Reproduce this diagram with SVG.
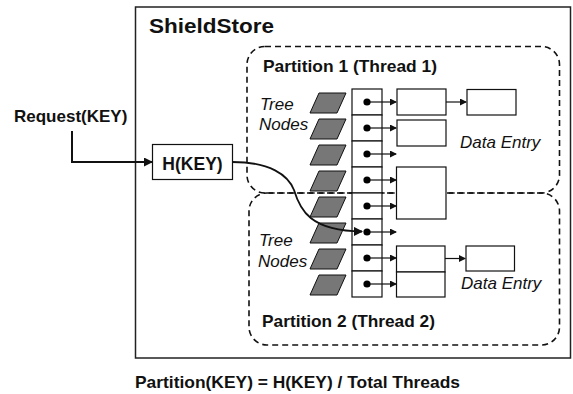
<svg xmlns="http://www.w3.org/2000/svg" width="573" height="394" viewBox="0 0 573 394">
  <defs>
    <style>
      .bold { font-family: "Liberation Sans", Arial, sans-serif; font-weight: bold; fill: #111; }
      .ital { font-family: "Liberation Sans", Arial, sans-serif; font-style: italic; fill: #111; font-size: 17px; }
      .box { fill: #fff; stroke: #111; stroke-width: 1.2; }
      .part { fill: none; stroke: #111; stroke-width: 1.6; stroke-dasharray: 6 4; }
      .node { fill: #777; stroke: #111; stroke-width: 1; }
      .ptr { stroke: #111; stroke-width: 1.2; fill: none; marker-end: url(#head); }
      .dot { fill: #000; }
    </style>
    <marker id="head" markerWidth="7" markerHeight="7" refX="6" refY="3.5" orient="auto" markerUnits="userSpaceOnUse">
      <path d="M0,0 L7,3.5 L0,7 Z" fill="#111"/>
    </marker>
    <marker id="headBig" markerWidth="9" markerHeight="9" refX="8" refY="4.5" orient="auto" markerUnits="userSpaceOnUse">
      <path d="M0,0 L9,4.5 L0,9 Z" fill="#111"/>
    </marker>
    <polygon id="tnode" points="319,-9 346,-9 337,11 310,11"/>
  </defs>

  <rect width="573" height="394" fill="#fff"/>

  <!-- ShieldStore container -->
  <g id="shieldstore">
    <rect x="135.5" y="7" width="435" height="351" fill="none" stroke="#222" stroke-width="1.5"/>
    <text class="bold" x="149" y="33" font-size="21" textLength="125" lengthAdjust="spacingAndGlyphs">ShieldStore</text>
  </g>

  <!-- Partitions -->
  <g id="partition1">
    <rect class="part" x="247" y="46.5" width="312.5" height="146.5" rx="18" ry="18"/>
    <text class="bold" x="263" y="72" font-size="16.5" textLength="174" lengthAdjust="spacingAndGlyphs">Partition 1 (Thread 1)</text>
    <text class="ital" x="260" y="110">Tree</text>
    <text class="ital" x="259" y="130">Nodes</text>
    <text class="ital" x="460" y="148">Data Entry</text>
  </g>
  <g id="partition2">
    <rect class="part" x="249" y="193" width="310.5" height="152" rx="18" ry="18"/>
    <text class="bold" x="262" y="327" font-size="16.5" textLength="173" lengthAdjust="spacingAndGlyphs">Partition 2 (Thread 2)</text>
    <text class="ital" x="259" y="246">Tree</text>
    <text class="ital" x="258" y="267">Nodes</text>
    <text class="ital" x="461" y="289">Data Entry</text>
  </g>

  <!-- Tree nodes -->
  <g id="tree-nodes">
    <use href="#tnode" class="node" transform="translate(0,102)"/>
    <use href="#tnode" class="node" transform="translate(0,128)"/>
    <use href="#tnode" class="node" transform="translate(0,154)"/>
    <use href="#tnode" class="node" transform="translate(0,180)"/>
    <use href="#tnode" class="node" transform="translate(0,206)"/>
    <use href="#tnode" class="node" transform="translate(0,232)"/>
    <use href="#tnode" class="node" transform="translate(0,258)"/>
    <use href="#tnode" class="node" transform="translate(0,284)"/>
  </g>

  <!-- Bucket array -->
  <g id="buckets">
    <rect class="box" x="352" y="89" width="30" height="26"/>
    <rect class="box" x="352" y="115" width="30" height="26"/>
    <rect class="box" x="352" y="141" width="30" height="26"/>
    <rect class="box" x="352" y="167" width="30" height="26"/>
    <rect class="box" x="352" y="193" width="30" height="26"/>
    <rect class="box" x="352" y="219" width="30" height="26"/>
    <rect class="box" x="352" y="245" width="30" height="26"/>
    <rect class="box" x="352" y="271" width="30" height="26"/>
  </g>

  <!-- Data entries -->
  <g id="data-entries">
    <rect class="box" x="397" y="89" width="49" height="26"/>
    <rect class="box" x="467" y="89.5" width="49" height="25.5"/>
    <rect class="box" x="397" y="120" width="49" height="26"/>
    <rect class="box" x="396.5" y="167" width="49.5" height="52"/>
    <rect class="box" x="396.5" y="246" width="48.5" height="26"/>
    <rect class="box" x="396.5" y="272" width="48.5" height="25"/>
    <rect class="box" x="466" y="246" width="48.5" height="25"/>
  </g>

  <!-- H(KEY) -->
  <g id="hash">
    <rect class="box" x="152.5" y="144.5" width="80" height="35"/>
    <text class="bold" x="192.5" y="169.5" font-size="17.5" text-anchor="middle">H(KEY)</text>
  </g>

  <!-- Request label -->
  <g id="request">
    <text class="bold" x="14" y="122" font-size="17">Request(KEY)</text>
  </g>

  <!-- Connectors -->
  <g id="connectors">
    <path d="M72,131 V162 H152" fill="none" stroke="#111" stroke-width="2" marker-end="url(#headBig)"/>
    <path d="M232.5,162 C270,162 288,175 294,190 C300,210 310,231 362,231.5" fill="none" stroke="#111" stroke-width="1.8" marker-end="url(#headBig)"/>

    <path class="ptr" d="M367,102 H396"/>
    <path class="ptr" d="M367,128 H396"/>
    <path class="ptr" d="M367,154 H396"/>
    <path class="ptr" d="M367,180 H396"/>
    <path class="ptr" d="M367,206 H396"/>
    <path class="ptr" d="M367,232 H396" stroke="#555"/>
    <path class="ptr" d="M367,258 H396"/>
    <path class="ptr" d="M367,284 H396"/>
    <path class="ptr" d="M446,102 H466"/>
    <path class="ptr" d="M445,258.5 H465" stroke="#666"/>

    <circle class="dot" cx="367" cy="102" r="3.6"/>
    <circle class="dot" cx="367" cy="128" r="3.6"/>
    <circle class="dot" cx="367" cy="154" r="3.6"/>
    <circle class="dot" cx="367" cy="180" r="3.6"/>
    <circle class="dot" cx="367" cy="206" r="3.6"/>
    <circle class="dot" cx="367" cy="232" r="3.6"/>
    <circle class="dot" cx="367" cy="258" r="3.6"/>
    <circle class="dot" cx="367" cy="284" r="3.6"/>
  </g>

  <!-- Formula caption -->
  <text class="bold" x="135" y="388" font-size="17" textLength="325" lengthAdjust="spacingAndGlyphs">Partition(KEY) = H(KEY) / Total Threads</text>
</svg>
